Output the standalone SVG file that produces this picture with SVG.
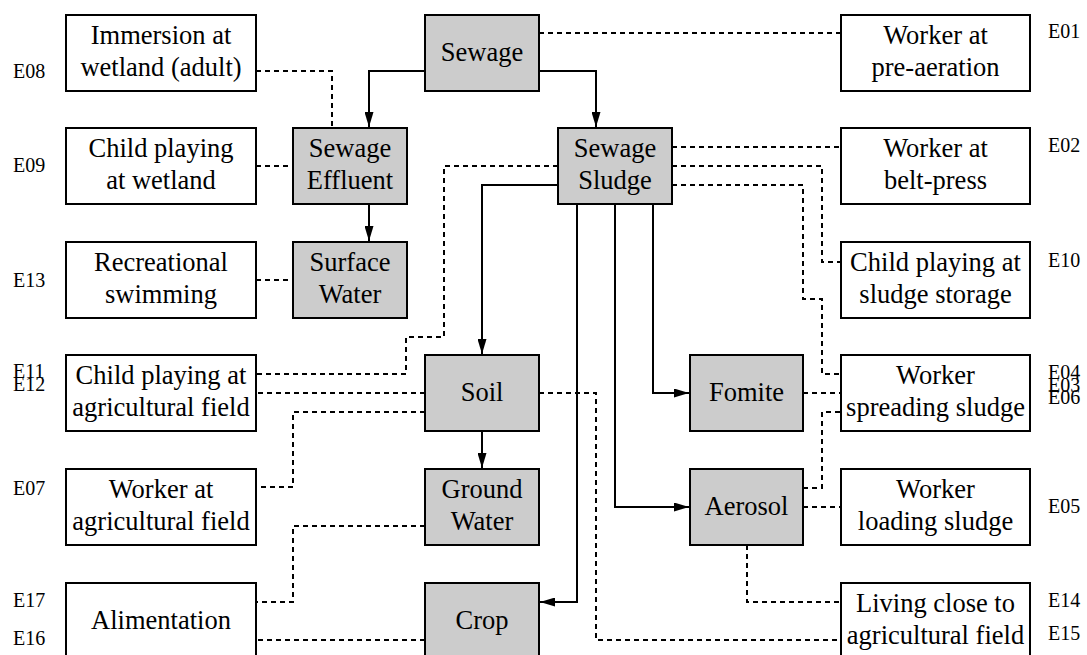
<svg xmlns="http://www.w3.org/2000/svg" width="1087" height="655" viewBox="0 0 1087 655">
<style>
.b{fill:#fff;stroke:#000;stroke-width:2}
.g{fill:#cccccc;stroke:#000;stroke-width:2}
.t{font-size:26.5px;text-anchor:middle;fill:#000}
.e{font-size:20px;fill:#000}
.sa{fill:none;stroke:#000;stroke-width:2;marker-end:url(#arr)}
.d{fill:none;stroke:#000;stroke-width:2;stroke-dasharray:5,4}
</style>
<defs>
<marker id="arr" markerUnits="userSpaceOnUse" markerWidth="15" markerHeight="9" refX="15" refY="4.5" orient="auto">
<path d="M0,0 L15,4.5 L0,9 z" fill="#000"/>
</marker>
</defs>
<rect width="1087" height="655" fill="#fff"/>
<g id="connectors">
<path class="sa" d="M425,71 H369 V127"/>
<path class="sa" d="M539,71 H596 V127"/>
<path class="sa" d="M369,204 V241"/>
<path class="sa" d="M558,185 H482 V354"/>
<path class="sa" d="M577,204 V602 H540"/>
<path class="sa" d="M615,204 V507 H689"/>
<path class="sa" d="M653,204 V393 H689"/>
<path class="sa" d="M482,431 V468"/>
<path class="d" d="M539,33 H841"/>
<path class="d" d="M256,71 H332 V128"/>
<path class="d" d="M256,166 H293"/>
<path class="d" d="M256,280 H293"/>
<path class="d" d="M672,147 H841"/>
<path class="d" d="M672,166 H822 V262 H841"/>
<path class="d" d="M672,185 H803 V299 H822 V374 H841"/>
<path class="d" d="M558,166 H444 V337 H406 V374 H256"/>
<path class="d" d="M425,393 H256"/>
<path class="d" d="M425,412 H293 V487 H256"/>
<path class="d" d="M539,393 H596 V640 H841"/>
<path class="d" d="M747,545 V602 H841"/>
<path class="d" d="M803,507 H841"/>
<path class="d" d="M803,488 H822 V412 H841"/>
<path class="d" d="M803,393 H841"/>
<path class="d" d="M425,526 H293 V602 H256"/>
<path class="d" d="M425,640 H256"/>
</g>
<g font-family="Liberation Serif, DejaVu Serif, serif">
<g id="immersion"><rect class="b" x="66" y="15" width="190" height="76"/><text class="t" x="161" y="44">Immersion at</text><text class="t" x="161" y="76">wetland (adult)</text></g>
<g id="child-wetland"><rect class="b" x="66" y="128" width="190" height="76"/><text class="t" x="161" y="157">Child playing</text><text class="t" x="161" y="189">at wetland</text></g>
<g id="recreational"><rect class="b" x="66" y="242" width="190" height="76"/><text class="t" x="161" y="271">Recreational</text><text class="t" x="161" y="303">swimming</text></g>
<g id="child-agri"><rect class="b" x="66" y="355" width="190" height="76"/><text class="t" x="161" y="384">Child playing at</text><text class="t" x="161" y="416">agricultural field</text></g>
<g id="worker-agri"><rect class="b" x="66" y="469" width="190" height="76"/><text class="t" x="161" y="498">Worker at</text><text class="t" x="161" y="530">agricultural field</text></g>
<g id="alimentation"><rect class="b" x="66" y="583" width="190" height="76"/><text class="t" x="161" y="629">Alimentation</text></g>
<g id="sewage"><rect class="g" x="425" y="15" width="114" height="76"/><text class="t" x="482" y="61">Sewage</text></g>
<g id="effluent"><rect class="g" x="293" y="128" width="114" height="76"/><text class="t" x="350" y="157">Sewage</text><text class="t" x="350" y="189">Effluent</text></g>
<g id="surface"><rect class="g" x="293" y="242" width="114" height="76"/><text class="t" x="350" y="271">Surface</text><text class="t" x="350" y="303">Water</text></g>
<g id="sludge"><rect class="g" x="558" y="128" width="114" height="76"/><text class="t" x="615" y="157">Sewage</text><text class="t" x="615" y="189">Sludge</text></g>
<g id="soil"><rect class="g" x="425" y="355" width="114" height="76"/><text class="t" x="482" y="401">Soil</text></g>
<g id="ground"><rect class="g" x="425" y="469" width="114" height="76"/><text class="t" x="482" y="498">Ground</text><text class="t" x="482" y="530">Water</text></g>
<g id="crop"><rect class="g" x="425" y="583" width="114" height="76"/><text class="t" x="482" y="629">Crop</text></g>
<g id="fomite"><rect class="g" x="690" y="355" width="113" height="76"/><text class="t" x="746.5" y="401">Fomite</text></g>
<g id="aerosol"><rect class="g" x="690" y="469" width="113" height="76"/><text class="t" x="746.5" y="515">Aerosol</text></g>
<g id="pre-aeration"><rect class="b" x="841" y="15" width="189" height="76"/><text class="t" x="935.5" y="44">Worker at</text><text class="t" x="935.5" y="76">pre-aeration</text></g>
<g id="belt-press"><rect class="b" x="841" y="128" width="189" height="76"/><text class="t" x="935.5" y="157">Worker at</text><text class="t" x="935.5" y="189">belt-press</text></g>
<g id="sludge-storage"><rect class="b" x="841" y="242" width="189" height="76"/><text class="t" x="935.5" y="271">Child playing at</text><text class="t" x="935.5" y="303">sludge storage</text></g>
<g id="spreading"><rect class="b" x="841" y="355" width="189" height="76"/><text class="t" x="935.5" y="384">Worker</text><text class="t" x="935.5" y="416">spreading sludge</text></g>
<g id="loading"><rect class="b" x="841" y="469" width="189" height="76"/><text class="t" x="935.5" y="498">Worker</text><text class="t" x="935.5" y="530">loading sludge</text></g>
<g id="living"><rect class="b" x="841" y="583" width="189" height="76"/><text class="t" x="935.5" y="612">Living close to</text><text class="t" x="935.5" y="644">agricultural field</text></g>
<g id="labels">
<text class="e" x="13" y="78">E08</text>
<text class="e" x="13" y="172">E09</text>
<text class="e" x="13" y="287">E13</text>
<text class="e" x="13" y="378">E11</text>
<text class="e" x="13" y="391">E12</text>
<text class="e" x="13" y="495">E07</text>
<text class="e" x="13" y="607">E17</text>
<text class="e" x="13" y="645">E16</text>
<text class="e" x="1048" y="38">E01</text>
<text class="e" x="1048" y="152">E02</text>
<text class="e" x="1048" y="267">E10</text>
<text class="e" x="1048" y="379">E04</text>
<text class="e" x="1048" y="392">E03</text>
<text class="e" x="1048" y="404">E06</text>
<text class="e" x="1048" y="513">E05</text>
<text class="e" x="1048" y="607">E14</text>
<text class="e" x="1048" y="640">E15</text>
</g>
</g>
</svg>
